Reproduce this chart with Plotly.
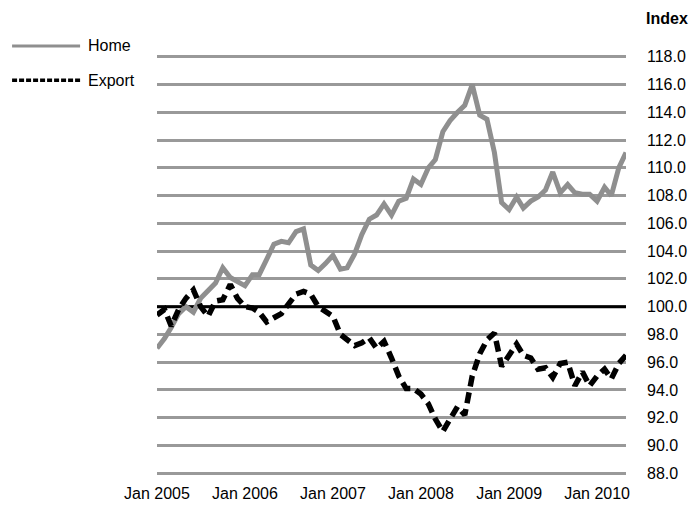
import pandas as pd
import plotly.graph_objects as go

# Monthly categories Jan 2005 .. May 2010
months = pd.date_range("2005-01-01", periods=65, freq="MS").strftime("%Y-%m-%d").tolist()

home = [97.0, 97.7, 98.5, 99.5, 100.0, 99.6, 100.6, 101.1, 101.7, 102.8,
        102.1, 101.8, 101.5, 102.3, 102.3, 103.4, 104.5, 104.7, 104.6, 105.4,
        105.6, 103.0, 102.6, 103.1, 103.7, 102.7, 102.8, 103.8, 105.2, 106.3,
        106.6, 107.4, 106.6, 107.6, 107.8, 109.2, 108.8, 110.0, 110.6, 112.6,
        113.4, 114.0, 114.5, 116.0, 113.8, 113.5, 111.1, 107.5, 107.0, 107.9,
        107.1, 107.6, 107.9, 108.4, 109.7, 108.2, 108.8, 108.2, 108.1, 108.1,
        107.6, 108.6, 108.0, 110.0, 111.1]

export = [99.4, 99.8, 98.6, 99.8, 100.6, 101.2, 100.0, 99.3, 100.4, 100.5,
          101.6, 100.6, 100.0, 99.9, 99.6, 98.9, 99.2, 99.5, 100.2, 100.9,
          101.1, 100.9, 100.0, 99.7, 99.3, 98.0, 97.6, 97.2, 97.4, 97.75,
          97.0, 97.5, 96.3, 95.0, 94.1, 94.1, 93.7, 93.0, 91.9, 91.0,
          91.9, 92.8, 92.2, 95.0, 96.6, 97.6, 98.1, 95.7, 96.5, 97.3,
          96.5, 96.3, 95.5, 95.6, 94.9, 95.9, 96.0, 94.3, 95.3, 94.3,
          95.0, 95.5, 94.8, 95.9, 96.5]

baseline = 100.0
series_names = ["Home", "Export"]
x_tick_dates = ["2005-01-01", "2006-01-01", "2007-01-01", "2008-01-01", "2009-01-01", "2010-01-01"]
x_tick_labels = ["Jan 2005", "Jan 2006", "Jan 2007", "Jan 2008", "Jan 2009", "Jan 2010"]
y_ticks = [88, 90, 92, 94, 96, 98, 100, 102, 104, 106, 108, 110, 112, 114, 116, 118]

FONT = "Liberation Sans, Arial, sans-serif"
GRID = "#999999"

fig = go.Figure()
# Baseline at 100 (drawn above the gridlines, below the series)
fig.add_trace(go.Scatter(x=[months[0], months[-1]], y=[baseline, baseline], mode="lines",
                         line=dict(color="#000000", width=3), hoverinfo="skip",
                         showlegend=False))
fig.add_trace(go.Scatter(x=months, y=home, mode="lines", name=series_names[0],
                         line=dict(color="#8f8f8f", width=5)))
fig.add_trace(go.Scatter(x=months, y=export, mode="lines", name=series_names[1],
                         line=dict(color="#000000", width=5.5, dash="11px,6px")))

# Manual legend (paper coords; plot area spans x 157..626 px)
fig.add_shape(type="line", xref="paper", yref="paper", x0=-0.309, x1=-0.164,
              y0=1.019, y1=1.019, line=dict(color="#8f8f8f", width=3))
fig.add_shape(type="line", xref="paper", yref="paper", x0=-0.309, x1=-0.164,
              y0=0.938, y1=0.938, line=dict(color="#000000", width=3.5, dash="5px,2px"))
fig.add_annotation(xref="paper", yref="paper", x=-0.151, y=1.019, text=series_names[0],
                   showarrow=False, xanchor="left", yanchor="middle",
                   font=dict(family=FONT, size=16, color="#000"))
fig.add_annotation(xref="paper", yref="paper", x=-0.151, y=0.938, text=series_names[1],
                   showarrow=False, xanchor="left", yanchor="middle",
                   font=dict(family=FONT, size=16, color="#000"))
fig.add_annotation(xref="paper", yref="paper", x=1.1365, y=1.085, text="<b>Index</b>",
                   showarrow=False, xanchor="right", yanchor="middle",
                   font=dict(family=FONT, size=16, color="#000"))

fig.update_layout(
    width=694, height=520,
    margin=dict(l=157, r=68, t=54, b=44, autoexpand=False),
    paper_bgcolor="white", plot_bgcolor="white",
    showlegend=False,
    font=dict(family=FONT, size=16, color="#000"),
    xaxis=dict(type="date", range=[months[0], months[-1]], automargin=False,
               tickvals=x_tick_dates, ticktext=x_tick_labels,
               showgrid=False, zeroline=False, showline=False, ticks="outside",
               ticklen=3, tickcolor="rgba(0,0,0,0)",
               tickfont=dict(family=FONT, size=16, color="#000")),
    yaxis=dict(side="right", range=[87.8, 118.2], tickvals=y_ticks, tickformat=".1f",
               automargin=False,
               showgrid=True, gridcolor=GRID, gridwidth=3,
               zeroline=False, showline=False, ticks="",
               ticklabelstandoff=20,
               tickfont=dict(family=FONT, size=16, color="#000")),
)

fig.write_html("out.html", config={"displayModeBar": False},
               post_script="document.body.style.margin='0';document.body.style.overflow='hidden';")
